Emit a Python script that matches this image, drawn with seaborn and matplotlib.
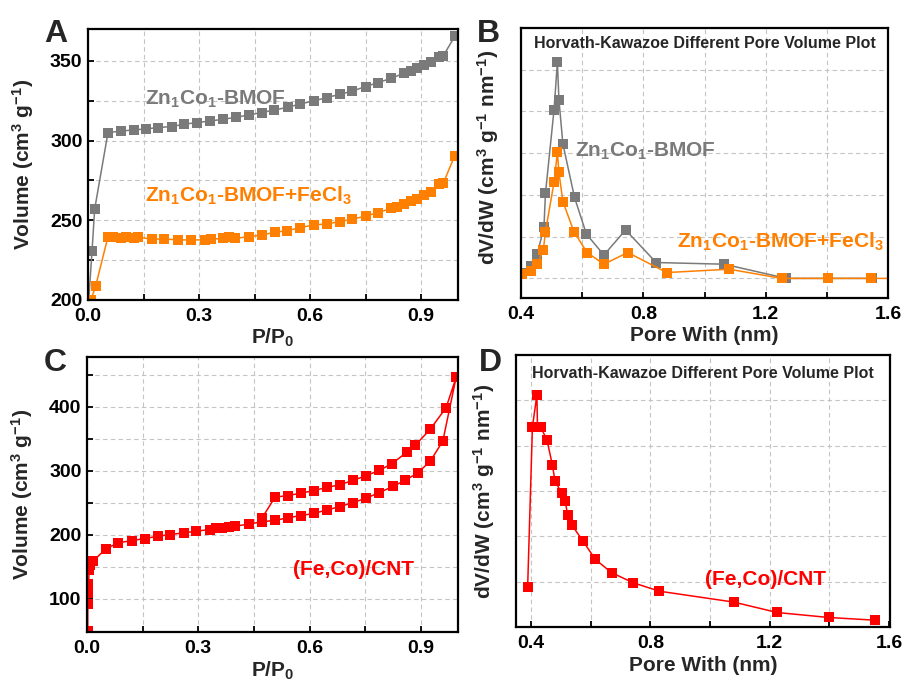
import numpy as np
import pandas as pd
import seaborn as sns
import matplotlib
matplotlib.use("Agg")
import matplotlib.pyplot as plt
from matplotlib.ticker import MultipleLocator

# ---------------- data ----------------
# Panel A: N2 isotherms
a_grey_x = [0.002, 0.011, 0.018, 0.054, 0.09, 0.124, 0.156, 0.19, 0.226, 0.26, 0.295, 0.33,
            0.366, 0.40, 0.435, 0.47, 0.504, 0.54, 0.574, 0.61, 0.646, 0.68, 0.714, 0.75,
            0.784, 0.82, 0.854, 0.872, 0.89, 0.908, 0.926, 0.949, 0.96, 0.991]
a_grey_y = [200, 231, 257, 305, 306, 306.7, 307.3, 308.2, 308.8, 310.3, 311.3, 312.3,
            313.4, 314.6, 316.1, 317.6, 319.2, 320.9, 323, 324.9, 327, 329, 331, 333.9,
            336.4, 339.1, 342.3, 343.9, 345.8, 347.5, 349.6, 352.3, 353.1, 365.3]
a_orange_x = [0.008, 0.021, 0.054, 0.068, 0.09, 0.104, 0.124, 0.136, 0.172, 0.205, 0.244, 0.278,
              0.316, 0.332, 0.366, 0.381, 0.398, 0.435, 0.47, 0.506, 0.539, 0.574, 0.61, 0.646,
              0.68, 0.714, 0.75, 0.784, 0.82, 0.836, 0.854, 0.872, 0.89, 0.908, 0.926, 0.949,
              0.96, 0.991]
a_orange_y = [200, 209, 239.7, 239.5, 238.7, 239.3, 238.7, 239.5, 238.1, 238.3, 237.7, 237.7,
              237.7, 238.1, 238.7, 239.5, 238.7, 239.7, 240.8, 242.5, 243.5, 245.4, 247.1, 247.7,
              249.2, 250.6, 252.7, 254.8, 257.5, 258.6, 260.3, 262.1, 263.4, 265.9, 268, 272.6,
              273.2, 290.4]

# Panel B: HK pore size distribution (grid units)
b_grey_x = [0.404, 0.432, 0.453, 0.475, 0.48, 0.508, 0.519, 0.524, 0.537, 0.575, 0.614,
            0.671, 0.742, 0.842, 1.064, 1.268, 1.404, 1.549]
b_grey_y = [0.12, 0.30, 0.58, 1.22, 2.04, 4.04, 5.18, 4.28, 3.22, 1.94, 1.06,
            0.56, 1.16, 0.38, 0.34, 0.0, 0.0, 0.0]
b_orange_x = [0.404, 0.432, 0.453, 0.473, 0.48, 0.508, 0.519, 0.524, 0.537, 0.573, 0.616,
              0.671, 0.749, 0.877, 1.081, 1.252, 1.404, 1.546, 1.70]
b_orange_y = [0.10, 0.18, 0.34, 0.68, 1.12, 2.30, 3.02, 2.54, 1.84, 1.12, 0.62,
              0.34, 0.62, 0.14, 0.22, 0.0, 0.0, 0.0, 0.0]

# Panel C: (Fe,Co)/CNT isotherm (adsorption then desorption)
c_x = [0.002, 0.002, 0.003, 0.004, 0.006, 0.009, 0.016, 0.052, 0.084, 0.12, 0.156, 0.191,
       0.225, 0.261, 0.295, 0.331, 0.347, 0.365, 0.383, 0.40, 0.437, 0.471, 0.507, 0.542,
       0.576, 0.612, 0.646, 0.681, 0.717, 0.752, 0.788, 0.824, 0.857, 0.891, 0.925, 0.959,
       0.995,
       0.968, 0.925, 0.885, 0.862, 0.822, 0.788, 0.752, 0.717, 0.681, 0.646, 0.612, 0.576,
       0.542, 0.507, 0.471]
c_y = [50, 92, 110, 124, 144.5, 152.4, 159.2, 178.6, 187.5, 191.1, 194.3, 198,
       200.6, 203.2, 205.8, 208.4, 210, 211, 212.6, 213.7, 216.8, 220.5, 222.6, 226.8,
       230, 233.6, 238.8, 244, 250.4, 257.2, 266, 275.5, 285, 296.5, 314.8, 346.2,
       445.8,
       398.6, 364.6, 340, 329, 311.1, 300.7, 292.3, 285, 278.1, 274, 269.2, 265,
       261.4, 258.9, 225.7]

# Panel D: HK pore size distribution (grid units)
d_x = [0.389, 0.405, 0.42, 0.422, 0.433, 0.454, 0.472, 0.481, 0.504, 0.515, 0.523, 0.536,
       0.575, 0.616, 0.67, 0.741, 0.83, 1.079, 1.225, 1.397, 1.554]
d_y = [0.88, 4.41, 5.12, 4.41, 4.41, 4.12, 3.57, 3.21, 2.95, 2.77, 2.47, 2.26,
       1.89, 1.49, 1.20, 0.98, 0.79, 0.55, 0.32, 0.21, 0.15]

# ---------------- style ----------------
sns.set_theme(style="white")
plt.rcParams["font.family"] = ["Liberation Sans", "DejaVu Sans"]
plt.rcParams["font.weight"] = "bold"
plt.rcParams["mathtext.fontset"] = "custom"
plt.rcParams["mathtext.rm"] = "Liberation Sans:bold"
plt.rcParams["mathtext.it"] = "Liberation Sans:bold"
plt.rcParams["mathtext.bf"] = "Liberation Sans:bold"
plt.rcParams["mathtext.default"] = "rm"

GREY = "#7a7a7a"
ORANGE = "#ff8000"
RED = "#ff0000"
GRIDC = "#c4c4c4"

W, H = 908, 690
fig = plt.figure(figsize=(W / 100, H / 100), dpi=100)


def box(l, t, r, b):
    return [l / W, 1 - b / H, (r - l) / W, (b - t) / H]


axA = fig.add_axes(box(88, 29, 458, 300))
axB = fig.add_axes(box(521, 28, 888, 298))
axC = fig.add_axes(box(87, 357, 458, 632))
axD = fig.add_axes(box(516, 355, 890, 627))


def series(ax, x, y, color):
    sns.lineplot(x=x, y=y, ax=ax, color=color, marker="s", markersize=7,
                 markeredgewidth=0, linewidth=1.1, sort=False, estimator=None)


def style(ax, xmaj, xmin, ymaj, ymin, ylabels=True):
    ax.xaxis.set_major_locator(MultipleLocator(xmaj))
    ax.xaxis.set_minor_locator(MultipleLocator(xmin))
    ax.yaxis.set_major_locator(MultipleLocator(ymaj))
    ax.yaxis.set_minor_locator(MultipleLocator(ymin))
    ax.grid(True, which="both", ls=(0, (4, 3)), color=GRIDC, lw=0.8)
    ax.set_axisbelow(True)
    for s in ax.spines.values():
        s.set_linewidth(1.6)
        s.set_color("black")
    ax.tick_params(axis="x", which="both", direction="in", length=4, width=1.3,
                   labelsize=14, pad=6, bottom=True, top=False, colors="black")
    if ylabels:
        ax.tick_params(axis="y", which="both", direction="in", length=4, width=1.3,
                       labelsize=14, pad=4, left=True, right=False, colors="black")
    else:
        ax.tick_params(axis="y", which="both", length=0, labelleft=False)


# Panel A
series(axA, a_grey_x, a_grey_y, GREY)
series(axA, a_orange_x, a_orange_y, ORANGE)
axA.set_xlim(0, 1.0)
axA.set_ylim(200, 370)
style(axA, 0.3, 0.15, 50, 25)
axA.set_xticks([0.0, 0.3, 0.6, 0.9])
axA.set_xticklabels(["0.0", "0.3", "0.6", "0.9"], fontweight="bold")
axA.set_yticks([200, 250, 300, 350])
axA.set_yticklabels(["200", "250", "300", "350"], fontweight="bold")
axA.set_xlabel("P/P$_0$", fontsize=15, fontweight="bold")
axA.set_ylabel("Volume (cm$^{3}$ g$^{-1}$)", fontsize=15, fontweight="bold")
axA.xaxis.set_label_coords(0.5, -0.1)
axA.yaxis.set_label_coords(-0.14, 0.5)

# Panel B
series(axB, b_grey_x, b_grey_y, GREY)
series(axB, b_orange_x, b_orange_y, ORANGE)
axB.set_xlim(0.4, 1.6)
axB.set_ylim(-0.47, 6.0)
style(axB, 0.4, 0.2, 1, 1, ylabels=False)
axB.set_xticks([0.4, 0.8, 1.2, 1.6])
axB.set_xticklabels(["0.4", "0.8", "1.2", "1.6"], fontweight="bold")
axB.set_xlabel("Pore With (nm)", fontsize=15, fontweight="bold")
axB.set_ylabel("dV/dW (cm$^{3}$ g$^{-1}$ nm$^{-1}$)", fontsize=15, fontweight="bold")
axB.xaxis.set_label_coords(0.5, -0.105)
axB.yaxis.set_label_coords(-0.055, 0.52)

# Panel C
series(axC, c_x, c_y, RED)
axC.set_xlim(0, 1.0)
axC.set_ylim(48.5, 477.5)
style(axC, 0.3, 0.15, 100, 50)
axC.set_xticks([0.0, 0.3, 0.6, 0.9])
axC.set_xticklabels(["0.0", "0.3", "0.6", "0.9"], fontweight="bold")
axC.set_yticks([100, 200, 300, 400])
axC.set_yticklabels(["100", "200", "300", "400"], fontweight="bold")
axC.set_xlabel("P/P$_0$", fontsize=15, fontweight="bold")
axC.set_ylabel("Volume (cm$^{3}$ g$^{-1}$)", fontsize=15, fontweight="bold")
axC.xaxis.set_label_coords(0.5, -0.1)
axC.yaxis.set_label_coords(-0.14, 0.5)

# Panel D
series(axD, d_x, d_y, RED)
axD.set_xlim(0.35, 1.603)
axD.set_ylim(0, 6.0)
style(axD, 0.4, 0.2, 1, 1, ylabels=False)
axD.set_xticks([0.4, 0.8, 1.2, 1.6])
axD.set_xticklabels(["0.4", "0.8", "1.2", "1.6"], fontweight="bold")
axD.set_xlabel("Pore With (nm)", fontsize=15, fontweight="bold")
axD.set_ylabel("dV/dW (cm$^{3}$ g$^{-1}$ nm$^{-1}$)", fontsize=15, fontweight="bold")
axD.xaxis.set_label_coords(0.5, -0.105)
axD.yaxis.set_label_coords(-0.05, 0.5)


def ftext(x, y, s, **kw):
    fig.text(x / W, 1 - y / H, s, va="baseline", fontweight="bold", **kw)


# panel letters
ftext(44, 42, "A", fontsize=23)
ftext(477, 42, "B", fontsize=23)
ftext(44, 371, "C", fontsize=23)
ftext(479, 371, "D", fontsize=23)

# in-plot labels
ftext(145, 105, "Zn$_1$Co$_1$-BMOF", fontsize=15, color=GREY)
ftext(145, 202, "Zn$_1$Co$_1$-BMOF+FeCl$_3$", fontsize=15, color=ORANGE)
ftext(575, 157, "Zn$_1$Co$_1$-BMOF", fontsize=15, color=GREY)
ftext(677, 248, "Zn$_1$Co$_1$-BMOF+FeCl$_3$", fontsize=15, color=ORANGE)
ftext(293, 575, "(Fe,Co)/CNT", fontsize=15, color=RED)
ftext(705, 585, "(Fe,Co)/CNT", fontsize=15, color=RED)

# titles inside B and D
ftext(704.5, 48, "Horvath-Kawazoe Different Pore Volume Plot", fontsize=11.5, ha="center")
ftext(703, 378, "Horvath-Kawazoe Different Pore Volume Plot", fontsize=11.5, ha="center")

fig.savefig("out.png", dpi=100)
